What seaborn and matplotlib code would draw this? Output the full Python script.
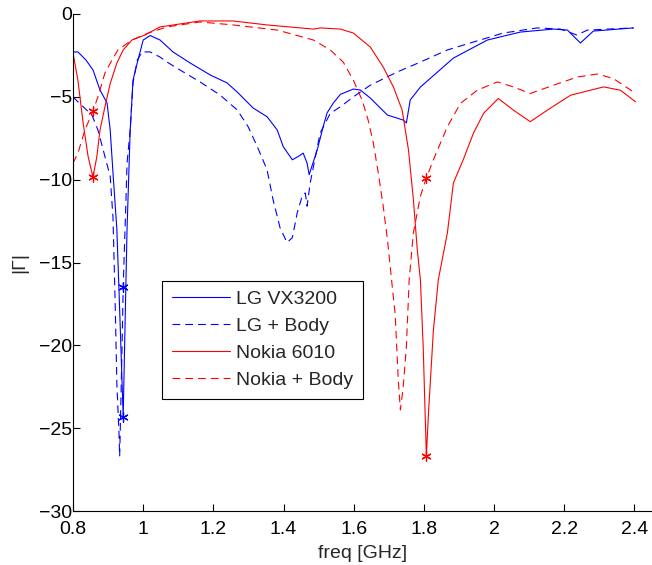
import matplotlib
matplotlib.use("Agg")
import matplotlib.pyplot as plt
import seaborn as sns
import numpy as np
import pandas as pd

# ---------------- data ----------------
lg_freq = [0.800, 0.814, 0.837, 0.857, 0.877, 0.897, 0.906, 0.914, 0.925, 0.934,
           0.943, 0.948, 0.954, 0.963, 0.971, 0.983, 1.000, 1.020, 1.048, 1.085,
           1.134, 1.191, 1.239, 1.268, 1.313, 1.353, 1.382, 1.399, 1.425, 1.442,
           1.456, 1.467, 1.473, 1.496, 1.513, 1.524, 1.542, 1.562, 1.599, 1.619,
           1.647, 1.696, 1.741, 1.750, 1.761, 1.790, 1.884, 1.981, 2.075, 2.169,
           2.209, 2.246, 2.283, 2.397]
lg_gamma = [-2.29, -2.29, -2.78, -3.38, -4.59, -5.37, -7.0, -9.6, -13.0, -18.5,
            -24.3, -19.1, -13.0, -7.0, -4.0, -2.96, -1.57, -1.30, -1.57, -2.29,
            -2.96, -3.68, -4.16, -4.71, -5.67, -6.2, -7.0, -8.0, -8.8, -8.6,
            -8.4, -9.0, -9.7, -8.2, -6.8, -5.97, -5.37, -4.85, -4.53, -4.59,
            -5.07, -6.10, -6.40, -6.58, -5.19, -4.41, -2.66, -1.57, -1.09, -0.91,
            -0.97, -1.75, -1.03, -0.84]

lgb_freq = [0.800, 0.814, 0.854, 0.871, 0.891, 0.906, 0.914, 0.920, 0.925, 0.931,
            0.933, 0.940, 0.943, 0.951, 0.954, 0.963, 0.971, 0.983, 0.997, 1.020,
            1.048, 1.068, 1.105, 1.162, 1.219, 1.268, 1.299, 1.325, 1.353, 1.370,
            1.390, 1.410, 1.425, 1.439, 1.453, 1.462, 1.467, 1.476, 1.504, 1.533,
            1.562, 1.599, 1.647, 1.724, 1.790, 1.867, 1.932, 2.026, 2.123, 2.189,
            2.236, 2.266, 2.397]
lgb_gamma = [-5.0, -5.3, -6.1, -7.0, -8.6, -9.8, -12.3, -17.3, -22.3, -25.3,
             -26.7, -19.9, -16.5, -11.2, -9.0, -7.0, -4.16, -2.78, -2.29, -2.29,
             -2.6, -2.9, -3.38, -4.1, -4.89, -5.79, -6.8, -8.0, -9.4, -11.2,
             -12.9, -13.8, -13.5, -12.0, -11.0, -10.8, -11.6, -10.2, -7.2, -6.0,
             -5.6, -5.0, -4.3, -3.5, -2.9, -2.17, -1.75, -1.15, -0.84, -0.91,
             -1.27, -0.97, -0.84]

nk_freq = [0.800, 0.814, 0.829, 0.843, 0.857, 0.868, 0.877, 0.891, 0.906, 0.925,
           0.943, 0.968, 1.005, 1.048, 1.162, 1.256, 1.353, 1.485, 1.505, 1.562,
           1.599, 1.647, 1.684, 1.713, 1.738, 1.756, 1.770, 1.781, 1.790, 1.798,
           1.807, 1.813, 1.827, 1.841, 1.867, 1.884, 1.912, 1.941, 1.970, 2.012,
           2.055, 2.103, 2.152, 2.218, 2.312, 2.360, 2.403]
nk_gamma = [-2.35, -4.0, -6.6, -8.6, -9.85, -8.6, -7.0, -5.6, -4.2, -2.96,
            -2.17, -1.57, -1.27, -0.78, -0.42, -0.42, -0.66, -0.91, -0.84, -0.91,
            -1.15, -1.99, -3.2, -4.4, -5.8, -8.2, -11.2, -14.2, -16.05, -20.1,
            -26.7, -24.1, -19.1, -16.05, -13.2, -10.2, -8.8, -7.2, -6.0, -5.1,
            -5.8, -6.5, -5.8, -4.9, -4.4, -4.6, -5.3]

nkb_freq = [0.800, 0.814, 0.834, 0.857, 0.871, 0.891, 0.911, 0.928, 0.968, 1.014,
            1.068, 1.162, 1.256, 1.382, 1.485, 1.533, 1.570, 1.599, 1.624, 1.641,
            1.656, 1.670, 1.684, 1.696, 1.710, 1.718, 1.727, 1.733, 1.741, 1.750,
            1.758, 1.770, 1.790, 1.807, 1.827, 1.867, 1.904, 1.952, 2.009, 2.055,
            2.103, 2.169, 2.238, 2.295, 2.340, 2.397]
nkb_gamma = [-9.0, -8.4, -7.0, -5.85, -5.0, -3.56, -2.78, -2.17, -1.57, -1.15,
             -0.78, -0.48, -0.66, -0.97, -1.57, -2.17, -2.9, -4.0, -5.2, -6.4,
             -7.8, -9.6, -11.6, -13.6, -16.5, -18.1, -22.1, -23.9, -22.5, -20.1,
             -16.05, -13.2, -11.0, -9.9, -8.8, -6.8, -5.4, -4.6, -4.1, -4.4,
             -4.8, -4.3, -3.8, -3.62, -3.9, -4.7]

# evaluation markers
lg_mark_freq = [0.943, 0.943]
lg_mark_gamma = [-24.3, -16.5]
nk_mark_freq = [0.857, 0.857, 1.807, 1.807]
nk_mark_gamma = [-9.85, -5.85, -26.7, -9.9]

labels = ["LG VX3200", "LG + Body", "Nokia 6010", "Nokia + Body"]
x_ticks = [0.8, 1.0, 1.2, 1.4, 1.6, 1.8, 2.0, 2.2, 2.4]
x_ticklabels = ["0.8", "1", "1.2", "1.4", "1.6", "1.8", "2", "2.2", "2.4"]
y_ticks = [-30, -25, -20, -15, -10, -5, 0]

# ---------------- style ----------------
sns.set_style("ticks")
plt.rcParams["font.family"] = ["Liberation Sans", "DejaVu Sans"]
plt.rcParams["xtick.direction"] = "in"
plt.rcParams["ytick.direction"] = "in"

fig = plt.figure(figsize=(6.52, 5.65), dpi=100)
ax = fig.add_axes([73 / 652, 54 / 565, 579 / 652, 497 / 565])

blue = "#0000ff"
red = "#ff0000"
lw = 0.8
dash = (0, (7, 4.5))

sns.lineplot(x=lg_freq, y=lg_gamma, color=blue, linewidth=lw, sort=False,
             estimator=None, ax=ax, label=labels[0])
sns.lineplot(x=lgb_freq, y=lgb_gamma, color=blue, linewidth=lw, sort=False,
             estimator=None, ax=ax, label=labels[1], linestyle=dash)
sns.lineplot(x=nk_freq, y=nk_gamma, color=red, linewidth=lw, sort=False,
             estimator=None, ax=ax, label=labels[2])
sns.lineplot(x=nkb_freq, y=nkb_gamma, color=red, linewidth=lw, sort=False,
             estimator=None, ax=ax, label=labels[3], linestyle=dash)

sns.scatterplot(x=lg_mark_freq, y=lg_mark_gamma, marker=(6, 2, 0), s=45,
                color=blue, edgecolor=blue, linewidth=0.9, ax=ax, legend=False, zorder=5)
sns.scatterplot(x=nk_mark_freq, y=nk_mark_gamma, marker=(6, 2, 0), s=45,
                color=red, edgecolor=red, linewidth=0.9, ax=ax, legend=False, zorder=5)

ax.set_xlim(0.8, 2.45)
ax.set_ylim(-30, 0)
ax.set_xticks(x_ticks)
ax.set_xticklabels(x_ticklabels)
ax.set_yticks(y_ticks)
ax.tick_params(axis="both", labelsize=14, length=5, width=0.8, colors="black")
ax.tick_params(axis="x", pad=7)
ax.tick_params(axis="y", pad=0.5)
for s in ["top", "right"]:
    ax.spines[s].set_visible(False)
for s in ["left", "bottom"]:
    ax.spines[s].set_color("black")
    ax.spines[s].set_linewidth(0.8)

ax.set_xlabel("freq [GHz]", fontsize=14, labelpad=5)
ax.set_ylabel("|Γ|", fontsize=14, labelpad=8)

leg = ax.legend(loc="upper left", bbox_to_anchor=(0.1537, 0.463), borderaxespad=0,
                fontsize=14, frameon=True, fancybox=False, framealpha=1,
                edgecolor="black", handlelength=3.0, labelspacing=0.48,
                borderpad=0.5, handletextpad=0.3)
leg.get_frame().set_linewidth(0.8)

fig.savefig("out.png", dpi=100)
